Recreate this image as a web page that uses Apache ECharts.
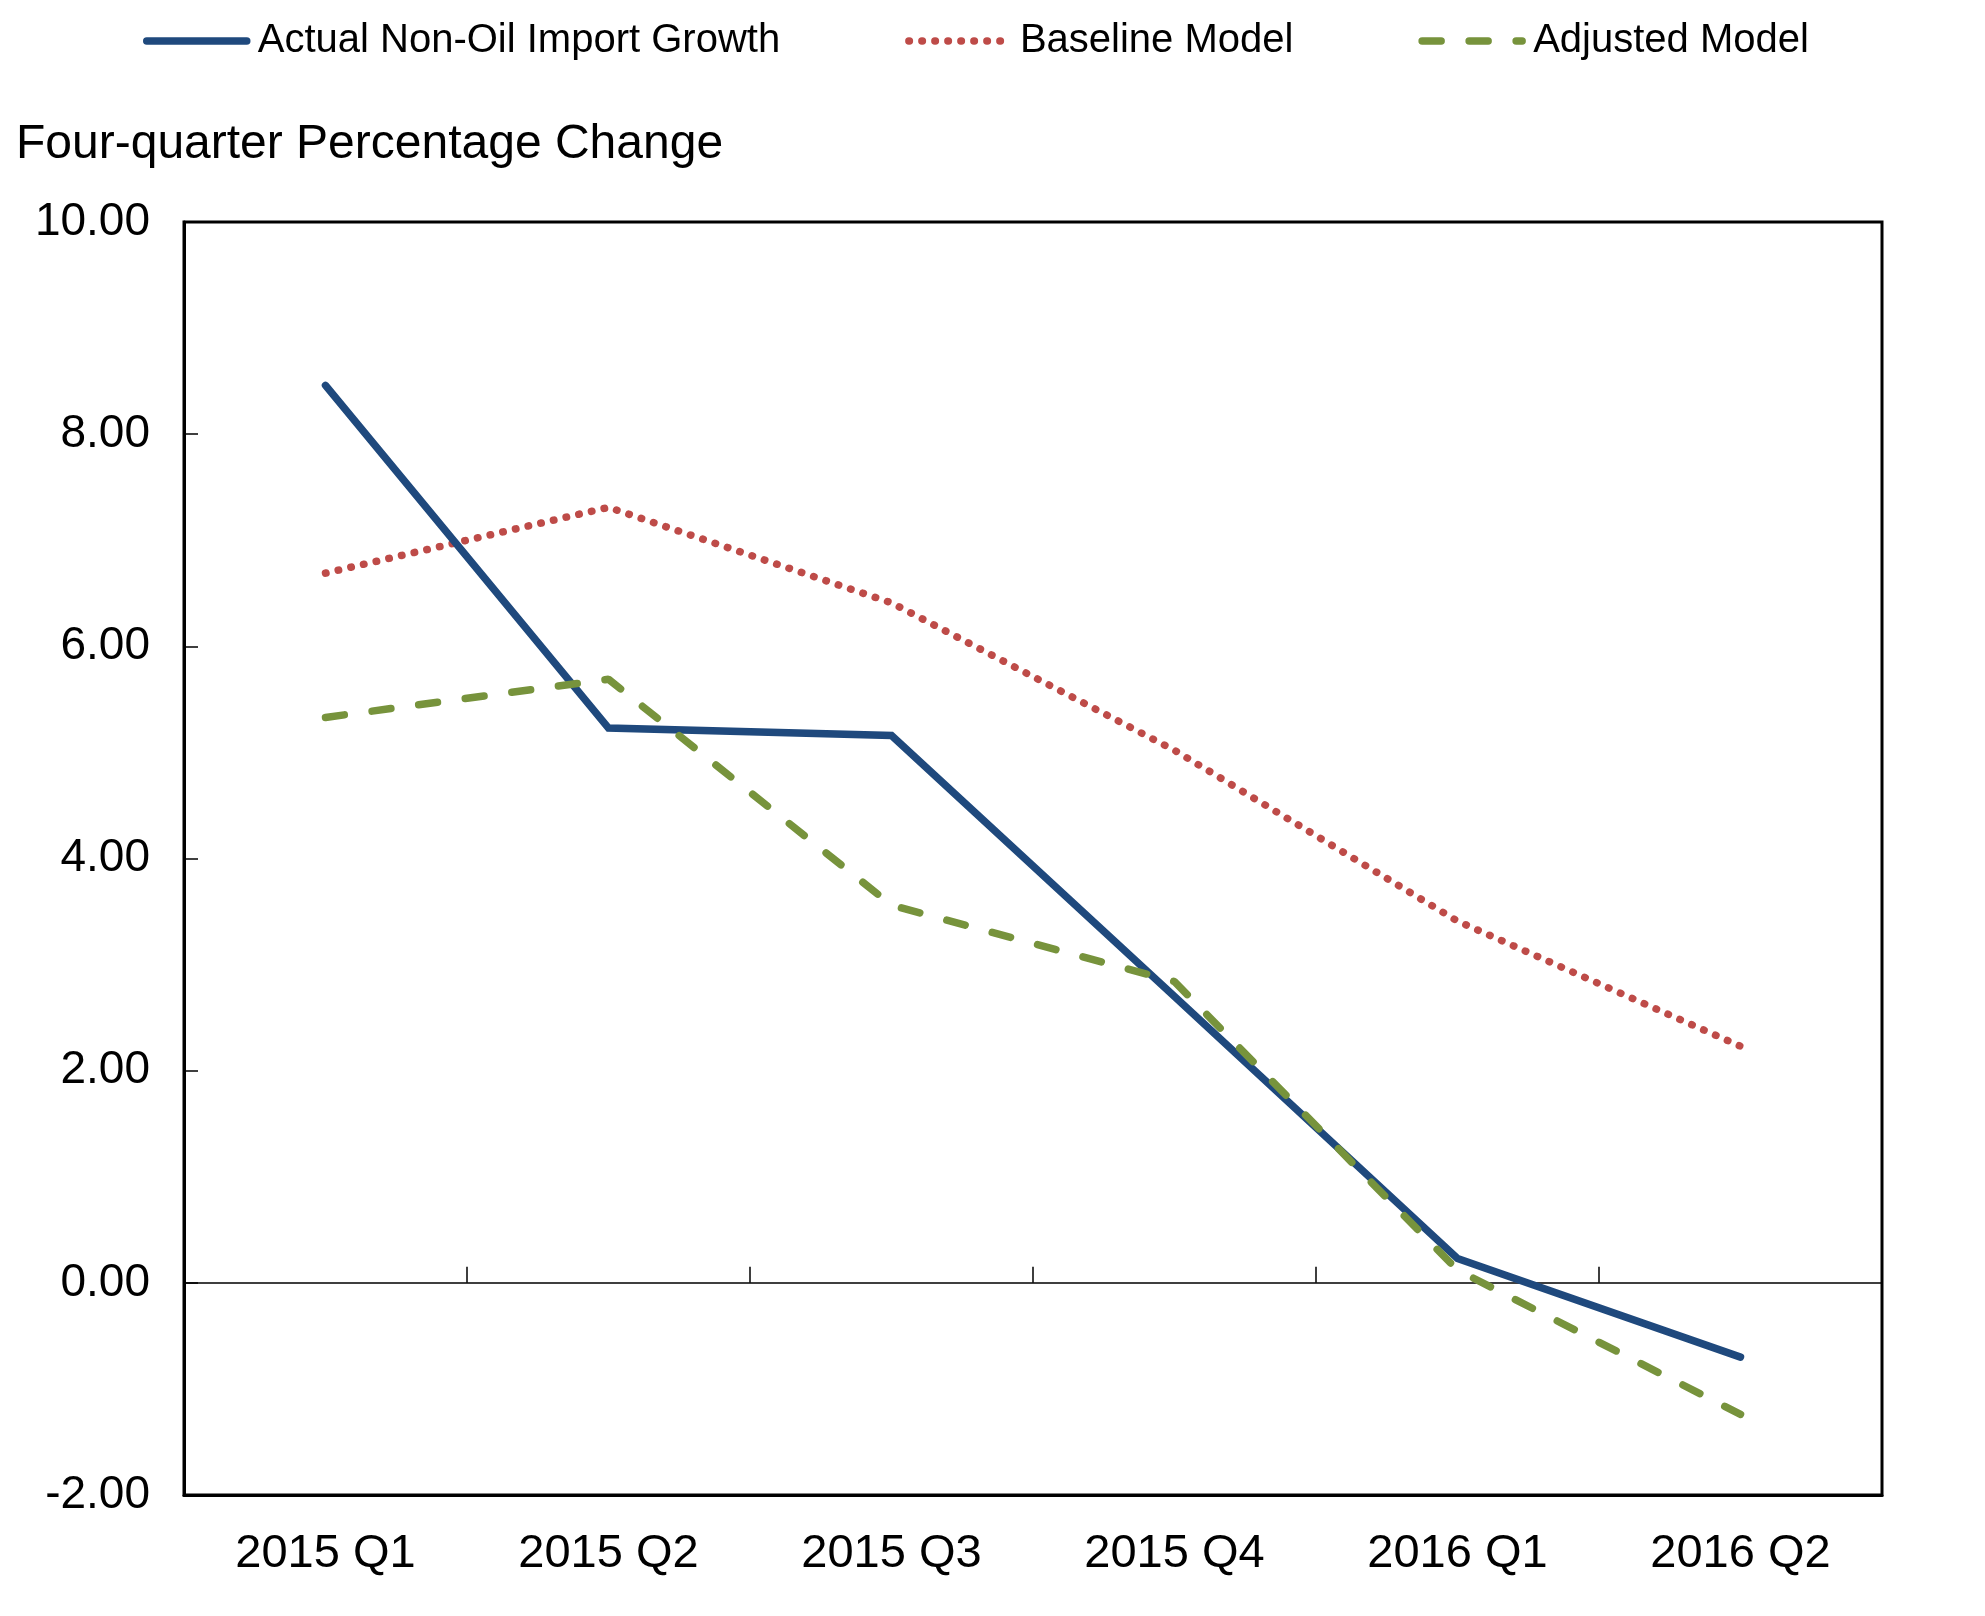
<!DOCTYPE html>
<html>
<head>
<meta charset="utf-8">
<script src="https://cdn.jsdelivr.net/npm/echarts@6/dist/echarts.min.js"></script>
<style>
html,body{margin:0;padding:0;background:#fff;}
#chart{width:1985px;height:1616px;}
</style>
</head>
<body>
<div id="chart"></div>
<script>
const categories = ['2015 Q1','2015 Q2','2015 Q3','2015 Q4','2016 Q1','2016 Q2'];
const actualGrowth = [8.46, 5.23, 5.16, 2.70, 0.23, -0.70];
const baselineModel = [6.69, 7.31, 6.41, 5.02, 3.41, 2.23];
const adjustedModel = [5.33, 5.69, 3.56, 2.84, 0.12, -1.24];
const seriesNames = ['Actual Non-Oil Import Growth', 'Baseline Model', 'Adjusted Model'];
const yTicks = {min: -2, max: 10, interval: 2};

const font = '"Liberation Sans", Arial, sans-serif';
const chart = echarts.init(document.getElementById('chart'), null, {renderer: 'canvas'});
chart.setOption({
  animation: false,
  backgroundColor: '#fff',
  title: {
    text: 'Four-quarter Percentage Change',
    left: 11, top: 116,
    textStyle: {fontFamily: font, fontSize: 48, fontWeight: 'normal', color: '#000'}
  },
  legend: {
    left: 138, top: 16,
    itemWidth: 100, itemHeight: 20, itemGap: 125,
    textStyle: {fontFamily: font, fontSize: 40, color: '#000', padding: [0, 0, 0, 6]},
    itemStyle: {opacity: 0},
    lineStyle: {width: 7.5},
    data: seriesNames
  },
  grid: {
    left: 184, right: 103, top: 222, bottom: 121,
    show: true, borderColor: '#000', borderWidth: 3, backgroundColor: 'transparent'
  },
  xAxis: [{
    type: 'category', data: categories, boundaryGap: true, position: 'bottom',
    axisLine: {show: true, onZero: false, lineStyle: {color: '#000', width: 3}},
    axisTick: {show: false},
    axisLabel: {fontFamily: font, fontSize: 47, color: '#000', margin: 36},
    splitLine: {show: false}
  }, {
    type: 'category', data: categories, boundaryGap: true, position: 'bottom',
    axisLine: {show: true, onZero: true, lineStyle: {color: '#000', width: 1.5}},
    axisTick: {show: true, inside: true, length: 16, lineStyle: {color: '#000', width: 1.5}},
    axisLabel: {show: false},
    splitLine: {show: false}
  }],
  yAxis: {
    type: 'value', min: yTicks.min, max: yTicks.max, interval: yTicks.interval,
    axisLine: {show: true, lineStyle: {color: '#000', width: 3}},
    axisTick: {show: true, inside: true, length: 14, lineStyle: {color: '#000', width: 1.5}},
    axisLabel: {fontFamily: font, fontSize: 46, color: '#000', margin: 34,
      formatter: v => v.toFixed(2)},
    splitLine: {show: false}
  },
  series: [{
    name: seriesNames[0], type: 'line', data: actualGrowth, symbol: 'none',
    lineStyle: {color: '#1F497D', width: 7.5, cap: 'round', join: 'miter'},
    itemStyle: {color: '#1F497D'}, z: 3
  }, {
    name: seriesNames[1], type: 'line', data: baselineModel, symbol: 'none',
    lineStyle: {color: '#BE4B48', width: 7.5, type: [0.5, 12.5], cap: 'round'},
    itemStyle: {color: '#BE4B48'}, z: 2
  }, {
    name: seriesNames[2], type: 'line', data: adjustedModel, symbol: 'none',
    lineStyle: {color: '#77933C', width: 7.5, type: [19, 28], cap: 'round'},
    itemStyle: {color: '#77933C'}, z: 4
  }]
});
</script>
</body>
</html>
